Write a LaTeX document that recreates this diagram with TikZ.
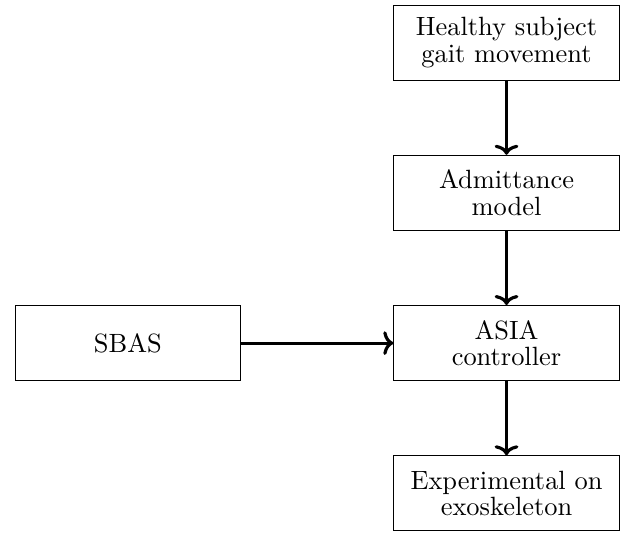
\documentclass[tikz,border=0pt]{standalone}
\usetikzlibrary{arrows.meta}
\begin{document}
\begin{tikzpicture}[
  blk/.style={draw, minimum width=3cm, minimum height=1cm, align=center, inner sep=2pt},
  conn/.style={very thick, -{To[length=3.8pt,width=9pt]}}
]
\useasboundingbox (-6.742,-6.515) rectangle (1.537,0.567);
\node[blk] (hs) at (0,0) {Healthy subject\\[-2pt]gait movement};
\node[blk] (am) at (0,-2) {Admittance\\[-2pt]model};
\node[blk] (asia) at (0,-4) {ASIA\\[-2pt]controller};
\node[blk] (exp) at (0,-6) {Experimental on\\[-2pt]exoskeleton};
\node[blk] (sbas) at (-5.04,-4) {SBAS};
\draw[conn] (hs) -- (am);
\draw[conn] (am) -- (asia);
\draw[conn] (asia) -- (exp);
\draw[conn] (sbas) -- (asia);
\end{tikzpicture}
\end{document}
